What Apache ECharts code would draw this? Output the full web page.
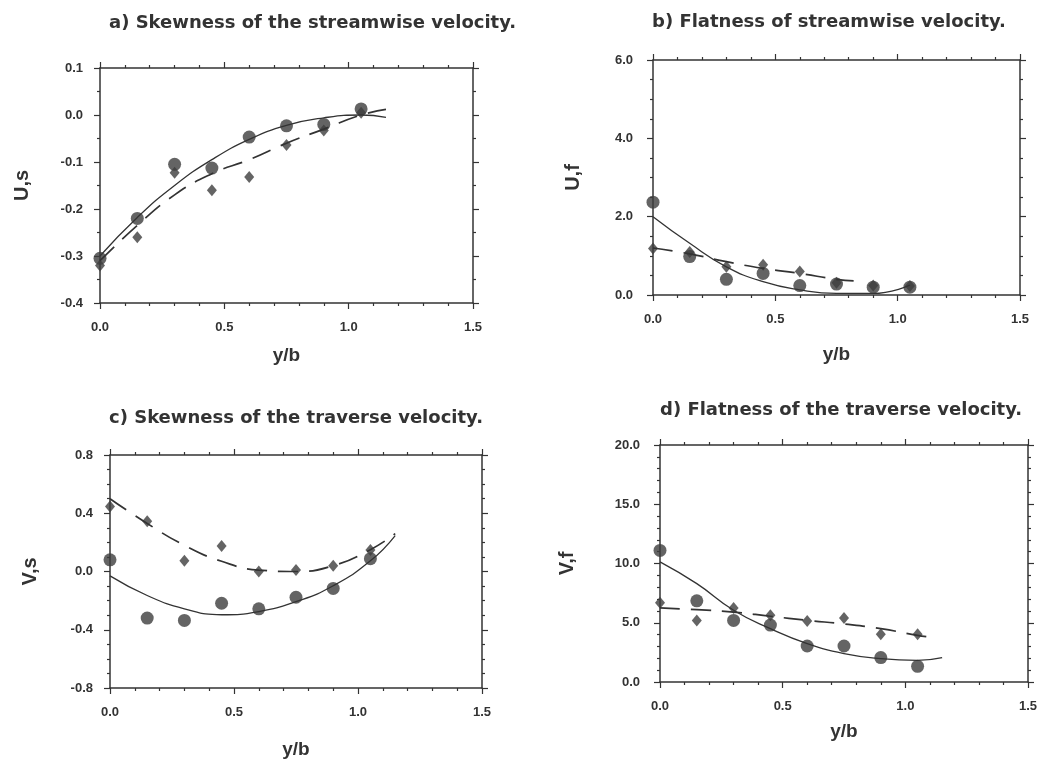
<!DOCTYPE html>
<html>
<head>
<meta charset="utf-8">
<script src="https://cdn.jsdelivr.net/npm/echarts@6/dist/echarts.min.js"></script>
<style>
  html, body { margin: 0; padding: 0; background: #fff; }
  #chart { width: 1047px; height: 760px; }
</style>
</head>
<body>
<div id="chart"></div>
<script>
// measurement stations (y/b)
const stations = [0, 0.15, 0.3, 0.45, 0.6, 0.75, 0.9, 1.05];
const fitX = [0, 0.15, 0.3, 0.45, 0.6, 0.75, 0.9, 1.05, 1.15];

// a) skewness of streamwise velocity
const usCircles = [-0.305, -0.22, -0.105, -0.113, -0.047, -0.023, -0.02, 0.013];
const usDiamonds = [-0.32, -0.26, -0.123, -0.16, -0.132, -0.064, -0.033, 0.005];
const usSolid = [-0.30, -0.218, -0.15, -0.095, -0.052, -0.022, -0.006, 0.0, -0.005];
const usDashed = [-0.31, -0.235, -0.17, -0.125, -0.095, -0.06, -0.03, 0.0, 0.012];

// b) flatness of streamwise velocity
const ufCircles = [2.37, 0.98, 0.4, 0.55, 0.24, 0.28, 0.2, 0.2];
const ufDiamonds = [1.19, 1.1, 0.72, 0.77, 0.6, 0.31, 0.24, 0.23];
const ufSolidX = [0, 0.15, 0.3, 0.45, 0.6, 0.75, 0.9, 1.05];
const ufSolid = [2.0, 1.32, 0.72, 0.34, 0.13, 0.04, 0.04, 0.25];
const ufDashedX = [0, 0.15, 0.3, 0.45, 0.6, 0.75, 0.82];
const ufDashed = [1.2, 1.05, 0.85, 0.68, 0.55, 0.4, 0.36];

// c) skewness of traverse velocity
const vsCircles = [0.08, -0.32, -0.336, -0.218, -0.256, -0.177, -0.116, 0.088];
const vsDiamonds = [0.447, 0.345, 0.073, 0.175, 0.0, 0.01, 0.04, 0.148];
const vsSolid = [-0.03, -0.165, -0.256, -0.297, -0.275, -0.207, -0.098, 0.073, 0.247];
const vsDashed = [0.5, 0.33, 0.18, 0.07, 0.01, 0.0, 0.04, 0.15, 0.26];

// d) flatness of traverse velocity
const vfCircles = [11.1, 6.85, 5.2, 4.8, 3.04, 3.04, 2.06, 1.32];
const vfDiamonds = [6.68, 5.2, 6.25, 5.63, 5.15, 5.4, 4.03, 4.03];
const vfSolid = [10.14, 8.3, 6.06, 4.5, 3.24, 2.4, 1.97, 1.83, 2.06];
const vfDashedX = [0, 0.15, 0.3, 0.45, 0.6, 0.75, 0.9, 1.05, 1.1];
const vfDashed = [6.25, 6.1, 5.9, 5.55, 5.2, 4.9, 4.5, 3.94, 3.8];

const xTicks = { min: 0, max: 1.5, interval: 0.5 };

const ink = '#333';
const font = 'Liberation Sans';

const pairs = (xs, ys) => xs.map((x, i) => [x, ys[i]]);

const panels = [
  { title: 'a) Skewness of the streamwise velocity.', tx: 104, ty: 9, name: 'U,s', yGap: 68, xGap: 43, yMargin: 17,
    grid: { left: 100, right: 574, top: 68, bottom: 457 },
    y: { min: -0.4, max: 0.1, interval: 0.1, minor: 2 },
    circles: usCircles, diamonds: usDiamonds,
    solid: pairs(fitX, usSolid), dashed: pairs(fitX, usDashed) },
  { title: 'b) Flatness of streamwise velocity.', tx: 647, ty: 8, name: 'U,f', yGap: 70, xGap: 50, yMargin: 20,
    grid: { left: 653, right: 27, top: 60, bottom: 465 },
    y: { min: 0, max: 6, interval: 2, minor: 4 },
    circles: ufCircles, diamonds: ufDiamonds,
    solid: pairs(ufSolidX, ufSolid), dashed: pairs(ufDashedX, ufDashed) },
  { title: 'c) Skewness of the traverse velocity.', tx: 104, ty: 404, name: 'V,s', yGap: 70, xGap: 52, yMargin: 17,
    grid: { left: 110, right: 565, top: 455, bottom: 72 },
    y: { min: -0.8, max: 0.8, interval: 0.4, minor: 4 },
    circles: vsCircles, diamonds: vsDiamonds,
    solid: pairs(fitX, vsSolid), dashed: pairs(fitX, vsDashed) },
  { title: 'd) Flatness of the traverse velocity.', tx: 655, ty: 396, name: 'V,f', yGap: 83, xGap: 40, yMargin: 20,
    grid: { left: 660, right: 19, top: 445, bottom: 78 },
    y: { min: 0, max: 20, interval: 5, minor: 5 },
    circles: vfCircles, diamonds: vfDiamonds,
    solid: pairs(fitX, vfSolid), dashed: pairs(vfDashedX, vfDashed) }
];

const axisLine = { show: true, onZero: false, lineStyle: { color: ink, width: 1.5 } };
const tickStyle = { lineStyle: { color: ink, width: 1.2 } };

const title = [], grid = [], xAxis = [], yAxis = [], series = [];

panels.forEach((p, i) => {
  title.push({
    text: p.title, left: p.tx, top: p.ty,
    textStyle: { fontFamily: 'DejaVu Sans', fontWeight: 'bold', fontSize: 18, color: ink }
  });
  grid.push(p.grid);
  const lbl = { color: ink, fontFamily: font, fontWeight: 'bold', fontSize: 13, formatter: v => v.toFixed(1) };
  xAxis.push({
    type: 'value', gridIndex: i, position: 'bottom', ...xTicks,
    name: 'y/b', nameLocation: 'middle', nameGap: p.xGap,
    nameTextStyle: { fontFamily: font, fontWeight: 'bold', fontSize: 19, color: ink },
    axisLine, axisTick: { length: 6, ...tickStyle },
    minorTick: { show: true, splitNumber: 5, length: 3, ...tickStyle },
    axisLabel: { ...lbl, margin: 18 }, splitLine: { show: false }
  });
  xAxis.push({
    type: 'value', gridIndex: i, position: 'top', ...xTicks,
    axisLine, axisTick: { length: 6, ...tickStyle },
    minorTick: { show: true, splitNumber: 5, length: 3, ...tickStyle },
    axisLabel: { show: false }, splitLine: { show: false }
  });
  yAxis.push({
    type: 'value', gridIndex: i, position: 'left', min: p.y.min, max: p.y.max, interval: p.y.interval,
    name: p.name, nameLocation: 'middle', nameGap: p.yGap, nameRotate: 90,
    nameTextStyle: { fontFamily: font, fontWeight: 'bold', fontSize: 20, color: ink },
    axisLine, axisTick: { length: 6, ...tickStyle },
    minorTick: { show: true, splitNumber: p.y.minor, length: 3, ...tickStyle },
    axisLabel: { ...lbl, margin: p.yMargin }, splitLine: { show: false }
  });
  yAxis.push({
    type: 'value', gridIndex: i, position: 'right', min: p.y.min, max: p.y.max, interval: p.y.interval,
    axisLine, axisTick: { length: 6, ...tickStyle },
    minorTick: { show: true, splitNumber: p.y.minor, length: 3, ...tickStyle },
    axisLabel: { show: false }, splitLine: { show: false }
  });
  const xi = i * 2, yi = i * 2;
  series.push({
    type: 'line', xAxisIndex: xi, yAxisIndex: yi, data: p.solid, smooth: 0.5,
    showSymbol: false, silent: true, lineStyle: { color: ink, width: 1.3 }
  });
  series.push({
    type: 'line', xAxisIndex: xi, yAxisIndex: yi, data: p.dashed, smooth: 0.5,
    showSymbol: false, silent: true, lineStyle: { color: ink, width: 1.7, type: [20, 11] }
  });
  series.push({
    type: 'scatter', xAxisIndex: xi, yAxisIndex: yi, data: pairs(stations, p.diamonds),
    symbol: 'diamond', symbolSize: [10, 12], itemStyle: { color: '#3d3d3d' }
  });
  series.push({
    type: 'scatter', xAxisIndex: xi, yAxisIndex: yi, data: pairs(stations, p.circles),
    symbol: 'circle', symbolSize: 13, itemStyle: { color: '#3d3d3d' }
  });
});

const chart = echarts.init(document.getElementById('chart'));
chart.setOption({ animation: false, backgroundColor: '#fff', title, grid, xAxis, yAxis, series });
</script>
</body>
</html>
